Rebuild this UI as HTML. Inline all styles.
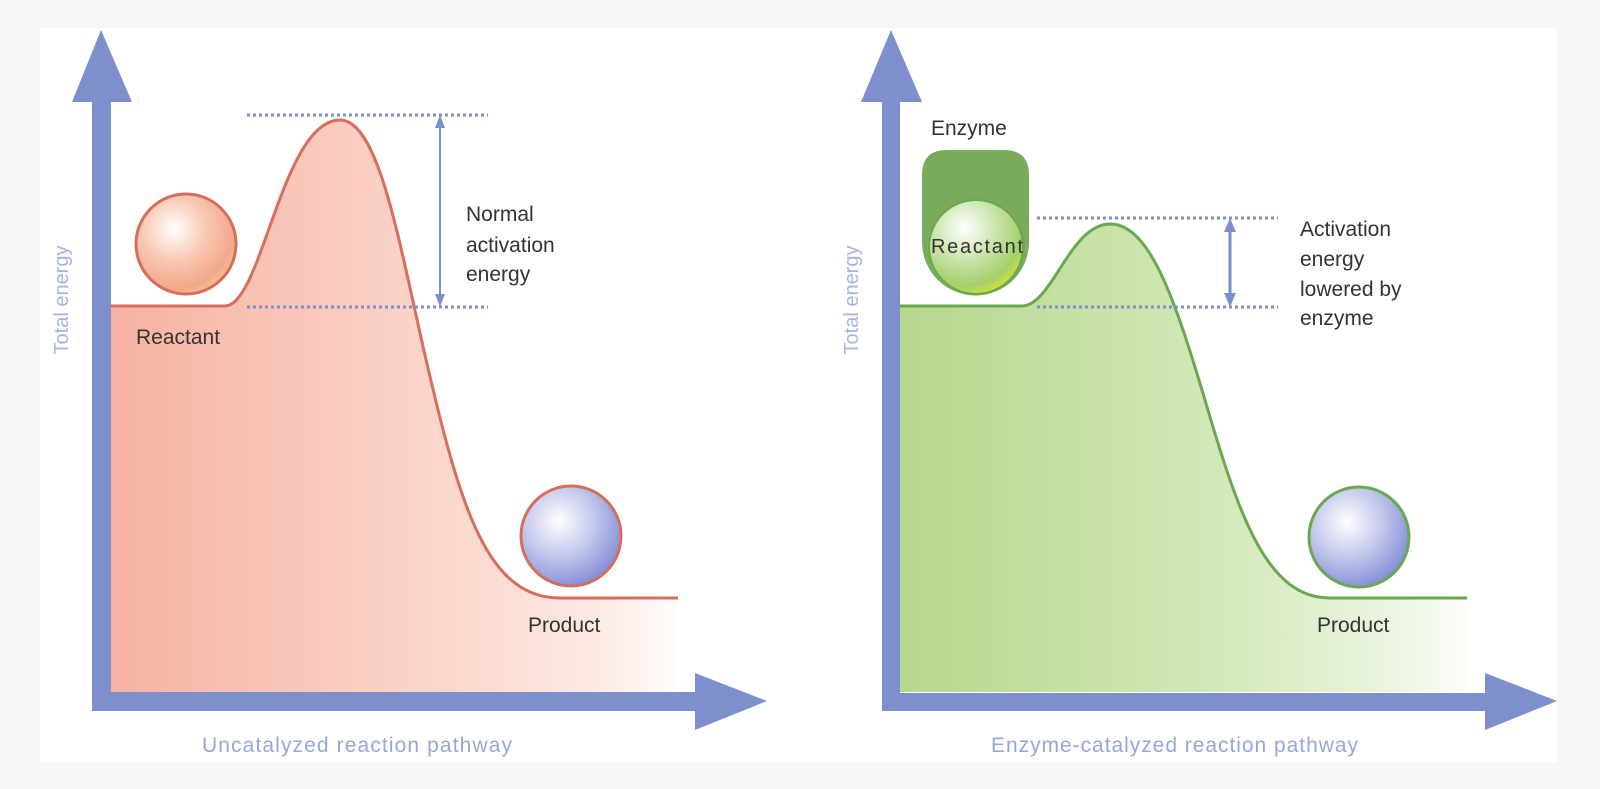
<!DOCTYPE html>
<html><head><style>
html,body{margin:0;padding:0;background:#f7f7f7;}
svg{display:block;}
text{font-family:"Liberation Sans",sans-serif;}
</style></head><body>
<svg width="1600" height="789" viewBox="0 0 1600 789" xmlns="http://www.w3.org/2000/svg">
<defs>
<linearGradient id="gr" x1="111" y1="0" x2="690" y2="0" gradientUnits="userSpaceOnUse">
<stop offset="0" stop-color="#f6b2a2"/><stop offset="0.55" stop-color="#fbd5ca"/><stop offset="0.85" stop-color="#fdebe5"/><stop offset="1" stop-color="#ffffff"/>
</linearGradient>
<linearGradient id="gg" x1="900" y1="0" x2="1480" y2="0" gradientUnits="userSpaceOnUse">
<stop offset="0" stop-color="#b6d88c"/><stop offset="0.55" stop-color="#d3e8b9"/><stop offset="0.85" stop-color="#ebf5e0"/><stop offset="1" stop-color="#ffffff"/>
</linearGradient>
<radialGradient id="sr" cx="0.38" cy="0.35" r="0.7">
<stop offset="0" stop-color="#ffffff"/><stop offset="0.45" stop-color="#f9c9b4"/><stop offset="0.85" stop-color="#f2a88c"/><stop offset="1" stop-color="#f6c28a"/>
</radialGradient>
<radialGradient id="sb" cx="0.38" cy="0.35" r="0.7">
<stop offset="0" stop-color="#ffffff"/><stop offset="0.5" stop-color="#c4c8ec"/><stop offset="1" stop-color="#7f8cd6"/>
</radialGradient>
<radialGradient id="sg" cx="0.38" cy="0.3" r="0.72">
<stop offset="0" stop-color="#ffffff"/><stop offset="0.5" stop-color="#c6e3a6"/><stop offset="0.85" stop-color="#a4d06a"/><stop offset="1" stop-color="#c9e040"/>
</radialGradient>
</defs>
<rect x="40" y="28" width="1517" height="734" fill="#ffffff"/>

<!-- LEFT -->
<path d="M111,306 L225,306 C262,306 282,120 340,120 C382,120 402,262 432,385 C464,520 492,598 560,598 L678,598 L678,692 L111,692 Z" fill="url(#gr)"/>
<path d="M111,306 L225,306 C262,306 282,120 340,120 C382,120 402,262 432,385 C464,520 492,598 560,598 L678,598" fill="none" stroke="#d66e5c" stroke-width="3"/>
<line x1="247" y1="115" x2="488" y2="115" stroke="#7d8fcc" stroke-width="3" stroke-dasharray="3 3"/>
<line x1="247" y1="307" x2="488" y2="307" stroke="#7d8fcc" stroke-width="3" stroke-dasharray="3 3"/>
<line x1="440" y1="124" x2="440" y2="298" stroke="#7d8fcc" stroke-width="2"/>
<polygon points="440,115 435,128 445,128" fill="#7d8fcc"/>
<polygon points="440,307 435,294 445,294" fill="#7d8fcc"/>
<circle cx="186" cy="244" r="50" fill="url(#sr)" stroke="#d66e5c" stroke-width="3"/>
<circle cx="571" cy="536" r="50" fill="url(#sb)" stroke="#d66e5c" stroke-width="3"/>
<rect x="92" y="98" width="19" height="613" fill="#7d8fcc"/>
<polygon points="101,30 72,102 132,102" fill="#7d8fcc"/>
<rect x="92" y="692" width="606" height="19" fill="#7d8fcc"/>
<polygon points="767,701 695,673 695,730" fill="#7d8fcc"/>
<text x="466" y="221" font-size="21" fill="#333">Normal</text>
<text x="466" y="252" font-size="21" fill="#333">activation</text>
<text x="466" y="281" font-size="21" fill="#333">energy</text>
<text x="136" y="344" font-size="21" fill="#333">Reactant</text>
<text x="528" y="632" font-size="21" fill="#333">Product</text>
<text x="202" y="752" font-size="21" fill="#98a5dc" textLength="310">Uncatalyzed reaction pathway</text>
<text transform="translate(68,300) rotate(-90)" text-anchor="middle" font-size="20" fill="#a6b2e2">Total energy</text>

<!-- RIGHT -->
<path d="M900,306 L1022,306 C1052,306 1070,224 1110,224 C1150,224 1175,300 1205,400 C1240,520 1268,598 1330,598 L1467,598 L1467,692 L900,692 Z" fill="url(#gg)"/>
<path d="M900,306 L1022,306 C1052,306 1070,224 1110,224 C1150,224 1175,300 1205,400 C1240,520 1268,598 1330,598 L1467,598" fill="none" stroke="#6aa84f" stroke-width="3"/>
<line x1="1037" y1="218" x2="1278" y2="218" stroke="#7d8fcc" stroke-width="3" stroke-dasharray="3 3"/>
<line x1="1037" y1="307" x2="1278" y2="307" stroke="#7d8fcc" stroke-width="3" stroke-dasharray="3 3"/>
<line x1="1230" y1="228" x2="1230" y2="298" stroke="#7d8fcc" stroke-width="3"/>
<polygon points="1230,218 1224,232 1236,232" fill="#7d8fcc"/>
<polygon points="1230,307 1224,293 1236,293" fill="#7d8fcc"/>
<path d="M922,175 Q922,150 947,150 L1004,150 Q1029,150 1029,175 L1029,242 A53.5,53.5 0 0 1 922,242 Z" fill="#7aab5c"/>
<circle cx="976" cy="247" r="47" fill="url(#sg)" stroke="#6aa84f" stroke-width="2"/>
<circle cx="1359" cy="537" r="50" fill="url(#sb)" stroke="#6aa84f" stroke-width="3"/>
<rect x="882" y="98" width="18" height="613" fill="#7d8fcc"/>
<polygon points="891,30 861,102 922,102" fill="#7d8fcc"/>
<rect x="882" y="693" width="606" height="18" fill="#7d8fcc"/>
<polygon points="1557,701 1485,673 1485,730" fill="#7d8fcc"/>
<text x="931" y="135" font-size="21" fill="#333">Enzyme</text>
<text x="931" y="253" font-size="20" fill="#333" textLength="92">Reactant</text>
<text x="1300" y="236" font-size="21" fill="#333">Activation</text>
<text x="1300" y="266" font-size="21" fill="#333">energy</text>
<text x="1300" y="296" font-size="21" fill="#333">lowered by</text>
<text x="1300" y="325" font-size="21" fill="#333">enzyme</text>
<text x="1317" y="632" font-size="21" fill="#333">Product</text>
<text x="991" y="752" font-size="21" fill="#98a5dc" textLength="367">Enzyme-catalyzed reaction pathway</text>
<text transform="translate(858,300) rotate(-90)" text-anchor="middle" font-size="20" fill="#a6b2e2">Total energy</text>
</svg>
</body></html>
